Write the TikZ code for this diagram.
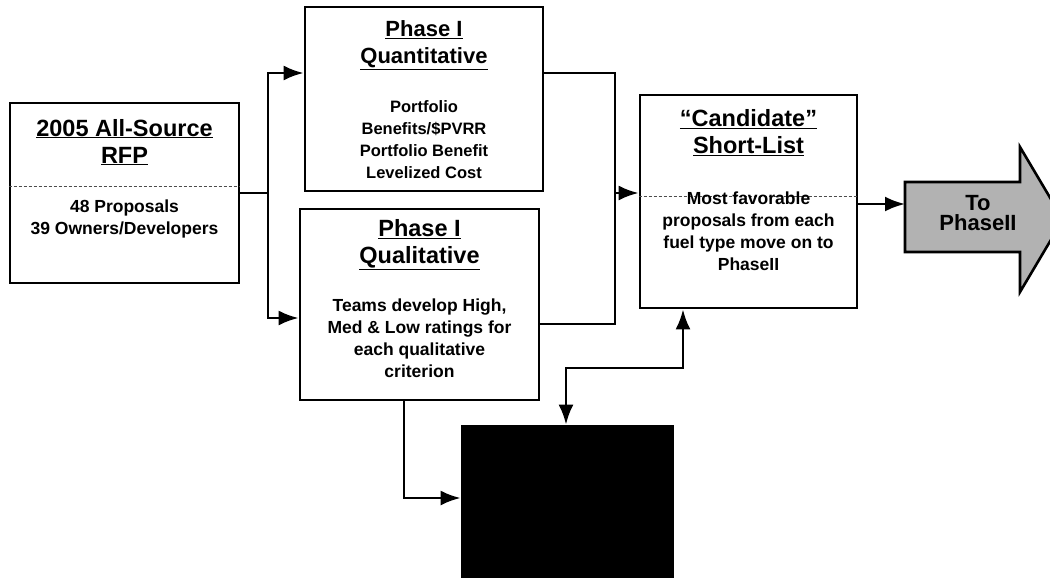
\documentclass[tikz,border=0pt]{standalone}
\usepackage{fontspec}
\setmainfont{Liberation Sans}
\usetikzlibrary{arrows.meta}

\begin{document}
\begin{tikzpicture}[x=1pt, y=-1pt,
				   box/.style={rectangle, draw=black, line width=2.8pt, inner sep=0pt},
				   head/.style={align=center, font=\fontsize{23.5}{27}\selectfont\bfseries},
				   txt/.style={align=center, font=\fontsize{17.5}{22}\selectfont\bfseries},
				   link/.style={line width=2.6pt},
				   arr/.style={link, -{Latex[length=20pt,width=15pt]}},
				   sep/.style={densely dashed, line width=0.6pt, black!70}]
\useasboundingbox (0,0) rectangle (1050,579);
\node[box, minimum width=229pt, minimum height=180pt] (rfp) at (124.5,193) {};
\node[head] (rfpHead) at (124.5,142) {\underline{2005 All-Source}\\\underline{RFP}};
\node[txt] (rfpText) at (124.5,218.5) {48 Proposals\\39 Owners/Developers};
\draw[sep] (rfp.west |- 0,186) -- (rfp.east |- 0,186);

\node[box, minimum width=238pt, minimum height=184pt] (quant) at (424,99) {};
\node[head, font=\fontsize{22}{27}\selectfont\bfseries] (quantHead) at (424,45) {\underline{Phase I}\\\underline{Quantitative}};
\node[txt, font=\fontsize{16.5}{22}\selectfont\bfseries] (quantText) at (424,139.5) {Portfolio\\Benefits/\$PVRR\\Portfolio Benefit\\Levelized Cost};

\node[box, minimum width=239pt, minimum height=191pt] (qual) at (419.5,304.5) {};
\node[head] (qualHead) at (419.5,244.5) {\underline{Phase I}\\\underline{Qualitative}};
\node[txt] (qualText) at (419.5,338) {Teams develop High,\\Med \& Low ratings for\\each qualitative\\criterion};

\node[box, minimum width=217pt, minimum height=213pt] (cand) at (748.5,201.5) {};
\draw[sep] (cand.west |- 0,196) -- (cand.east |- 0,196);
\node[head] (candHead) at (748.5,133) {\underline{“Candidate”}\\\underline{Short-List}};
\node[txt] (candText) at (748.5,231) {Most favorable\\proposals from each\\fuel type move on to\\PhaseII};

\node[box, fill=black, minimum width=211pt, minimum height=151pt] (blk) at (567.5,501.5) {};

\draw[line width=2.6pt, fill=black!30] (905,182) -- (1020,182) -- (1020,147) -- (1063,219.5)
	-- (1020,292) -- (1020,252) -- (905,252) -- cycle;
\node[align=center, font=\fontsize{22}{20}\selectfont\bfseries] (toII) at (978,213) {To\\PhaseII};

\coordinate (split) at (268,193);
\coordinate (merge) at (615,193);
\coordinate (inII) at (905,204);
\coordinate (bend) at (683,368);

\draw[link] (rfp.east) -- (split);
\draw[arr] (split) |- ([yshift=26pt]quant.west);
\draw[arr] (split) |- ([yshift=-13.5pt]qual.west);
\draw[link] ([yshift=26pt]quant.east) -| (merge);
\draw[link] ([yshift=-19.5pt]qual.east) -| (merge);
\draw[arr] (merge) -- (merge -| cand.west);
\draw[arr] ([yshift=-2.5pt]cand.east) -- (inII);
\draw[arr] ([xshift=-15.5pt]qual.south) |- ([yshift=3.5pt]blk.west);
\draw[link, {Latex[length=20pt,width=15pt]}-{Latex[length=20pt,width=15pt]}] ([xshift=-1.5pt]blk.north) |- (bend) -- (bend |- cand.south);
\end{tikzpicture}
\end{document}
